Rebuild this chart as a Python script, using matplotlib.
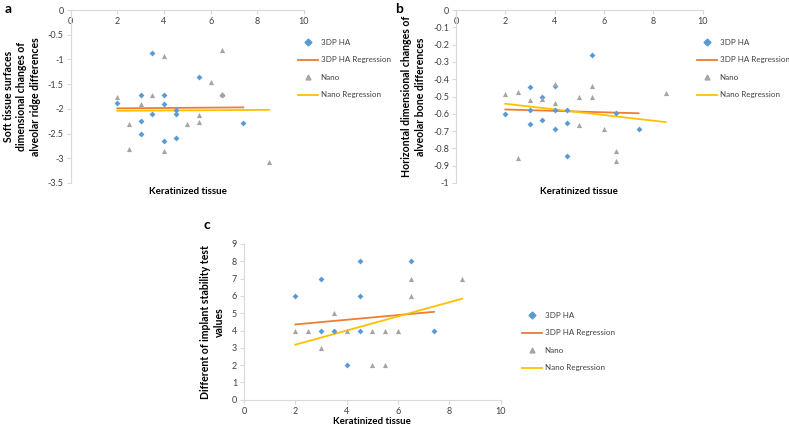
import numpy as np
import matplotlib.pyplot as plt
from matplotlib.lines import Line2D

plt.rcParams['font.family'] = ['Lato', 'DejaVu Sans']

# Panel a
a_ha_x = [2, 3.5, 3, 3, 3, 3.5, 4, 4, 4, 4.5, 4.5, 4.5, 5.5, 6.5, 7.4]
a_ha_y = [-1.89, -0.86, -1.71, -2.25, -2.5, -2.1, -1.71, -1.91, -2.66, -2.03, -2.11, -2.59, -1.36, -1.71, -2.28]
a_nano_x = [2, 2.5, 2.5, 3, 3.5, 4, 4, 5, 5.5, 5.5, 6, 6.5, 6.5, 8.5]
a_nano_y = [-1.77, -2.3, -2.82, -1.91, -1.72, -0.93, -2.85, -2.31, -2.12, -2.27, -1.46, -0.81, -1.69, -3.07]
a_ha_fit = ([2, 7.4], [-1.99, -1.97])
a_nano_fit = ([2, 8.5], [-2.04, -2.02])

# Panel b
b_ha_x = [2, 3, 3, 3, 3.5, 3.5, 4, 4, 4, 4.5, 4.5, 4.5, 5.5, 6.5, 7.4]
b_ha_y = [-0.602, -0.444, -0.577, -0.66, -0.5, -0.635, -0.438, -0.577, -0.69,
          -0.577, -0.656, -0.844, -0.26, -0.597, -0.69]
b_nano_x = [2, 2.5, 2.5, 3, 3.5, 4, 4, 5, 5, 5.5, 5.5, 6, 6.5, 6.5, 8.5]
b_nano_y = [-0.488, -0.473, -0.853, -0.519, -0.517, -0.425, -0.535, -0.502, -0.662,
            -0.44, -0.504, -0.687, -0.817, -0.873, -0.48]
b_ha_fit = ([2, 7.4], [-0.575, -0.597])
b_nano_fit = ([2, 8.5], [-0.542, -0.648])

# Panel c
c_ha_x = [2, 3, 3, 3.5, 4, 4.5, 4.5, 4.5, 6.5, 7.4]
c_ha_y = [6, 7, 4, 4, 2, 8, 6, 4, 8, 4]
c_nano_x = [2, 2.5, 3, 3.5, 4, 5, 5, 5.5, 5.5, 6, 6.5, 6.5, 8.5]
c_nano_y = [4, 4, 3, 5, 4, 4, 2, 4, 2, 4, 7, 6, 7]
c_ha_fit = ([2, 7.4], [4.35, 5.08])
c_nano_fit = ([2, 8.5], [3.18, 5.84])

blue = '#5B9BD5'
orange = '#ED7D31'
gray = '#A5A5A5'
yellow = '#FFC000'
axcol = '#D9D9D9'
txt = '#404040'

W, H = 789, 430
fig = plt.figure(figsize=(W / 100, H / 100), dpi=100)


def make_ax(x0, x1, ytop, ybot):
    return fig.add_axes([x0 / W, 1 - ybot / H, (x1 - x0) / W, (ybot - ytop) / H])


def draw(ax, hx, hy, nx, ny, hfit, nfit):
    ax.plot(*hfit, color=orange, lw=1.3, zorder=2)
    ax.plot(*nfit, color=yellow, lw=1.3, zorder=2)
    ax.scatter(hx, hy, marker='D', s=9, color=blue, zorder=3, linewidths=0)
    ax.scatter(nx, ny, marker='^', s=14, color=gray, zorder=3, linewidths=0)
    for s in ['right', 'top']:
        ax.spines[s].set_visible(False)
    for s in ['left', 'bottom']:
        ax.spines[s].set_color(axcol)
        ax.spines[s].set_linewidth(0.8)
    ax.tick_params(labelsize=6.5, colors=axcol, labelcolor=txt, length=3, width=0.8, pad=2)
    ax.set_xlim(0, 10)
    ax.set_xticks([0, 2, 4, 6, 8, 10])


def legend(x, y):
    items = [('m', 'D', blue, '3DP HA'), ('l', None, orange, '3DP HA Regression'),
             ('m', '^', gray, 'Nano'), ('l', None, yellow, 'Nano Regression')]
    handles = []
    for kind, mk, c, lab in items:
        if kind == 'm':
            handles.append(Line2D([], [], ls='none', marker=mk, color=c, markersize=3.5, label=lab))
        else:
            handles.append(Line2D([], [], color=c, lw=1.3, label=lab))
    fig.legend(handles=handles, loc='upper left', bbox_to_anchor=(x / W, 1 - y / H),
               frameon=False, fontsize=5.8, labelspacing=1.3, handlelength=2.5,
               handletextpad=0.3, labelcolor=txt, borderaxespad=0, borderpad=0)


ylab_kw = dict(fontsize=7.6, fontweight='bold', labelpad=5, linespacing=1.3)

# a
ax = make_ax(70.7, 304, 10, 183)
draw(ax, a_ha_x, a_ha_y, a_nano_x, a_nano_y, a_ha_fit, a_nano_fit)
ax.set_ylim(-3.5, 0)
ax.set_yticks(np.arange(-3.5, 0.01, 0.5))
ax.set_yticklabels(['-3.5', '-3', '-2.5', '-2', '-1.5', '-1', '-0.5', '0'])
ax.spines['bottom'].set_position(('data', 0))
ax.set_ylabel('Soft tissue surfaces\ndimensional changes of\nalveolar ridge differences', **ylab_kw)
fig.text(187.5 / W, 1 - 192 / H, 'Keratinized tissue', ha='center', va='center',
         fontsize=7, fontweight='bold')
legend(298, 39)
fig.text(5 / W, 1 - 9 / H, 'a', fontsize=10, fontweight='bold', va='center')

# b
ax = make_ax(456, 702.7, 10, 183)
draw(ax, b_ha_x, b_ha_y, b_nano_x, b_nano_y, b_ha_fit, b_nano_fit)
ax.set_ylim(-1, 0)
ax.set_yticks(np.round(np.arange(-1, 0.01, 0.1), 1))
ax.set_yticklabels(['-1', '-0.9', '-0.8', '-0.7', '-0.6', '-0.5', '-0.4', '-0.3', '-0.2', '-0.1', '0'])
ax.spines['bottom'].set_position(('data', 0))
ax.set_ylabel('Horizontal dimensional changes of\nalveolar bone differences', **ylab_kw)
fig.text(579 / W, 1 - 192 / H, 'Keratinized tissue', ha='center', va='center',
         fontsize=7, fontweight='bold')
legend(697, 39)
fig.text(395 / W, 1 - 9 / H, 'b', fontsize=10, fontweight='bold', va='center')

# c
ax = make_ax(244, 500.7, 244, 399.7)
draw(ax, c_ha_x, c_ha_y, c_nano_x, c_nano_y, c_ha_fit, c_nano_fit)
ax.set_ylim(0, 9)
ax.set_yticks(range(0, 10))
fig.text(372 / W, 1 - 422 / H, 'Keratinized tissue', ha='center', va='center',
         fontsize=7, fontweight='bold')
ax.set_ylabel('Different of implant stability test\nvalues', **ylab_kw)
legend(522, 312)
fig.text(204 / W, 1 - 225 / H, 'c', fontsize=10, fontweight='bold', va='center')

fig.savefig('out.png', dpi=100)
